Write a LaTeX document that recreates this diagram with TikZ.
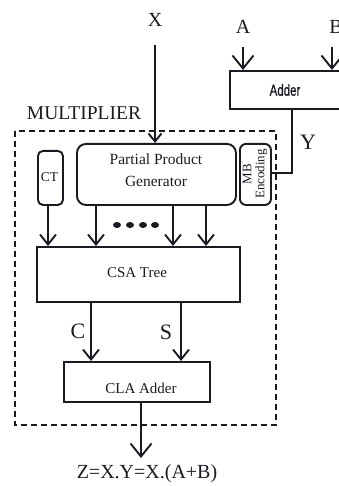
\documentclass[tikz,border=0pt]{standalone}
\usepackage{fontspec}
\setmainfont{Liberation Serif}
\newfontfamily\adderfont[FakeBold=1.2]{Liberation Sans}
\usetikzlibrary{arrows.meta}
\definecolor{ink}{HTML}{1A1A22}
\tikzset{
  lw/.style={line width=1.9pt, draw=ink},
  blk/.style={lw, rectangle, inner sep=0pt, text=ink},
  rblk/.style={blk, rounded corners=8pt},
  arr/.style={lw, -{Straight Barb[length=10pt,width=16pt,line width=1.9pt]}},
  bigarr/.style={lw, -{Straight Barb[length=13pt,width=21pt,line width=1.9pt]}},
  smallarr/.style={lw, -{Straight Barb[length=8pt,width=13pt,line width=1.9pt]}},
  lbl/.style={text=ink, inner sep=0pt, font=\fontsize{20}{22}\selectfont},
  dot/.style={ellipse, fill=ink, inner sep=0pt, minimum width=8pt, minimum height=6pt},
}
\usetikzlibrary{shapes.geometric}
\begin{document}
\begin{tikzpicture}[x=1pt,y=-1pt]
\useasboundingbox (0,0) rectangle (339,486);
\clip (0,0) rectangle (339,486);
% labels
\node[lbl] (xl) at (155,20) {X};
\node[lbl] (al) at (243,27) {A};
\node[lbl] (bl) at (336,27) {B};
\node[lbl, font=\fontsize{22}{24}\selectfont] (yl) at (308,142) {Y};
\node[lbl, font=\fontsize{19.5}{22}\selectfont] (mul) at (84,113) {MULTIPLIER};
% adder
\node[blk, minimum width=120pt, minimum height=38pt, anchor=north west] (adder) at (229,70) {};
\node[text=ink, inner sep=0pt, font=\adderfont\fontsize{16}{18}\selectfont] (addert) at (285,90) {\scalebox{0.72}[1]{Adder}};
\coordinate (aA) at (243,70);
\coordinate (aB) at (332,70);
\coordinate (aTopA) at (243,47);
\coordinate (aTopB) at (332,47);
\draw[bigarr] (aTopA) -- (aA);
\draw[bigarr] (aTopB) -- (aB);
% dashed box
\draw[lw, dash pattern=on 6pt off 4pt] (15,131) rectangle (276,425);
% PPG
\node[rblk, minimum width=159pt, minimum height=61pt, anchor=north west, rounded corners=9pt] (ppg) at (76,143) {};
\node[text=ink, inner sep=0pt, align=center, font=\fontsize{15.5}{22}\selectfont] (ppgt) at (156,170) {Partial Product\\Generator};
% CT
\node[rblk, rounded corners=5pt, minimum width=25pt, minimum height=54pt, anchor=north west] (ct) at (37,150) {};
\node[text=ink, inner sep=0pt, font=\fontsize{13.5}{14}\selectfont] (ctt) at (49.5,177) {CT};
% MB
\node[rblk, rounded corners=6pt, minimum width=31pt, minimum height=61pt, anchor=north west] (mb) at (239,143) {};
\node[text=ink, inner sep=0pt, rotate=90, align=center, font=\fontsize{13}{13}\selectfont] (mbt) at (255,174) {MB\\Encoding};
% X arrow
\draw[smallarr] (xl.south |- 0,45) -- (ppg.north -| xl.south);
% Y path
\coordinate (yb) at (292,173);
\draw[lw] (adder.south west -| yb) -- (yb) -- (mb.east |- yb);
% CSA
\node[blk, minimum width=203pt, minimum height=55pt, anchor=north west] (csa) at (36,246) {};
\node[text=ink, inner sep=0pt, font=\fontsize{15}{16}\selectfont] (csat) at (137,273) {CSA Tree};
\draw[arr] (48,204) -- (48,246);
\draw[arr] (96,204) -- (96,246);
\draw[arr] (173,204) -- (173,246);
\draw[arr] (206,204) -- (206,246);
\node[dot] (d1) at (117,225) {};
\node[dot] (d2) at (130,225) {};
\node[dot] (d3) at (143,225) {};
\node[dot] (d4) at (155,225) {};
% CLA
\node[blk, minimum width=146pt, minimum height=40pt, anchor=north west] (cla) at (63,361) {};
\node[text=ink, inner sep=0pt, font=\fontsize{15}{16}\selectfont] (clat) at (141,388) {CLA Adder};
\draw[arr] (91,301) -- (91,361);
\draw[arr] (181,301) -- (181,361);
\node[lbl, font=\fontsize{22}{24}\selectfont] (cl) at (78,331) {C};
\node[lbl, font=\fontsize{22}{24}\selectfont] (sl) at (166,332) {S};
% output
\coordinate (zout) at (141,458);
\draw[bigarr] (cla.south -| zout) -- (zout);
\node[lbl] (zt) at (147,474) {Z=X.Y=X.(A+B)};
\end{tikzpicture}
\end{document}
